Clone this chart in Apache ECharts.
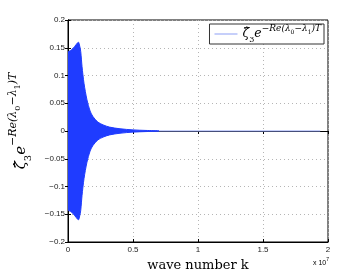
<!DOCTYPE html>
<html>
<head>
<meta charset="utf-8">
<script src="https://cdn.jsdelivr.net/npm/echarts@6/dist/echarts.min.js"></script>
<style>html,body{margin:0;padding:0;background:#fff;}#c{width:362px;height:273px;}</style>
</head>
<body>
<div id="c"></div>
<script>
// envelope of the oscillating signal (k, amplitude)
const envK = [0, 0.2e6, 0.4e6, 0.6e6, 0.8e6, 0.9e6, 0.98e6, 1.08e6, 1.23e6, 1.46e6, 1.7e6, 1.92e6, 2.3e6, 2.7e6, 3.2e6, 4.0e6, 5.0e6, 6.0e6, 7.0e6];
const envUpper = [0.143, 0.145, 0.149, 0.155, 0.160, 0.153, 0.143, 0.116, 0.086, 0.056, 0.036, 0.026, 0.016, 0.011, 0.007, 0.004, 0.002, 0.001, 0.0005];
const envLower = [-0.143, -0.145, -0.149, -0.155, -0.160, -0.153, -0.143, -0.116, -0.086, -0.056, -0.036, -0.026, -0.016, -0.011, -0.007, -0.004, -0.002, -0.001, -0.0005];
// tail of the signal (essentially zero)
const tailK = [0, 1.94e7];
const tailVal = [0, 0];
const xTicks = [0, 0.5, 1, 1.5, 2];
const yTicks = [-0.2, -0.15, -0.1, -0.05, 0, 0.05, 0.1, 0.15, 0.2];
const seriesName = 'zeta';

const chart = echarts.init(document.getElementById('c'), null, {renderer: 'canvas'});
const blue = '#1f3cff';
const tickFont = {fontFamily: 'Liberation Sans, Arial, sans-serif', fontSize: 8, color: '#222'};
const gridLine = {show: true, lineStyle: {color: '#b5b5b5', type: [1, 3], width: 1}};
const fmtY = v => {
  const r = Math.round(v * 100) / 100;
  const s = String(Math.abs(r));
  return (r < 0 ? '\u2212' : '') + s;
};
const mathText = '{b|\u03B6\u0302}{s|3}{b|e}{p|\u2212Re(\u03BB}{pp|0}{p|\u2212\u03BB}{pp|1}{p|)T}';
function mathRich(base, L) {
  const ff = 'DejaVu Serif, Liberation Serif, serif';
  return {
    b: {fontFamily: ff, fontStyle: 'italic', fontSize: base, color: '#000', verticalAlign: 'middle', lineHeight: L},
    s: {fontFamily: ff, fontSize: Math.round(base * 0.65), color: '#000', verticalAlign: 'bottom'},
    p: {fontFamily: ff, fontStyle: 'italic', fontSize: Math.round(base * 0.72), color: '#000', verticalAlign: 'top'},
    pp: {fontFamily: ff, fontSize: Math.round(base * 0.5), color: '#000', verticalAlign: 'top', padding: [Math.round(base * 0.42), 0, 0, 0]}
  };
}
const option = {
  animation: false,
  backgroundColor: '#fff',
  grid: {left: 68, top: 20, right: 34, bottom: 31, show: true, borderColor: '#000', borderWidth: 1, containLabel: false, outerBoundsMode: 'none'},
  legend: {
    show: true, right: 38, top: 24, orient: 'horizontal',
    backgroundColor: '#fff', borderColor: '#333', borderWidth: 1, borderRadius: 0,
    padding: [0, 3, 0, 5], itemWidth: 23, itemHeight: 1, itemGap: 4,
    data: [{name: seriesName, icon: 'rect'}],
    formatter: () => mathText,
    textStyle: {rich: mathRich(12.5, 20)}
  },
  xAxis: [{
    type: 'value', min: 0, max: 2e7, interval: 5e6, position: 'bottom',
    axisLine: {show: true, onZero: false, lineStyle: {color: '#000'}},
    axisTick: {show: true, inside: true, length: 3, lineStyle: {color: '#000'}},
    axisLabel: Object.assign({margin: 4, formatter: v => String(xTicks[Math.round(v / 5e6)])}, tickFont),
    splitLine: gridLine,
    name: 'wave number k', nameLocation: 'middle', nameGap: 13,
    nameTextStyle: {fontFamily: 'DejaVu Serif, Liberation Serif, serif', fontSize: 13, color: '#000', verticalAlign: 'top'}
  }, {
    type: 'value', min: 0, max: 2e7, interval: 5e6, position: 'top',
    axisLine: {show: true, lineStyle: {color: '#000'}},
    axisTick: {show: true, inside: true, length: 3, lineStyle: {color: '#000'}},
    axisLabel: {show: false}, splitLine: {show: false}
  }],
  yAxis: [{
    type: 'value', min: -0.2, max: 0.2, interval: 0.05, position: 'left',
    axisLine: {show: true, lineStyle: {color: '#000'}},
    axisTick: {show: true, inside: true, length: 3, lineStyle: {color: '#000'}},
    axisLabel: Object.assign({margin: 3, formatter: v => fmtY(yTicks[Math.round((v + 0.2) / 0.05)])}, tickFont),
    splitLine: gridLine,
    name: mathText,
    nameLocation: 'middle', nameRotate: 90, nameGap: 32,
    nameTextStyle: {padding: [0, 0, 0, 20], rich: mathRich(15, 26)}
  }, {
    type: 'value', min: -0.2, max: 0.2, interval: 0.05, position: 'right',
    axisLine: {show: true, lineStyle: {color: '#000'}},
    axisTick: {show: true, inside: true, length: 3, lineStyle: {color: '#000'}},
    axisLabel: {show: false}, splitLine: {show: false}
  }],
  graphic: [{
    type: 'text', left: 313, top: 257,
    style: {
      text: '{a|x 10}{b|7}',
      rich: {
        a: {fontFamily: 'Liberation Sans, Arial, sans-serif', fontSize: 7, fill: '#000', verticalAlign: 'middle', lineHeight: 12},
        b: {fontFamily: 'Liberation Sans, Arial, sans-serif', fontSize: 5, fill: '#000', verticalAlign: 'top'}
      }
    }
  }],
  series: [
    {
      name: seriesName, type: 'line', showSymbol: false, xAxisIndex: 0, yAxisIndex: 0,
      data: tailK.map((k, i) => [k, tailVal[i]]),
      lineStyle: {color: '#8c9ef5', width: 1}, itemStyle: {color: '#8c9ef5'}, z: 2
    },
    {
      name: 'upper', type: 'line', showSymbol: false, smooth: 0.3,
      data: envK.map((k, i) => [k, envUpper[i]]),
      lineStyle: {color: blue, width: 1}, areaStyle: {color: blue, opacity: 1}, z: 3
    },
    {
      name: 'lower', type: 'line', showSymbol: false, smooth: 0.3,
      data: envK.map((k, i) => [k, envLower[i]]),
      lineStyle: {color: blue, width: 1}, areaStyle: {color: blue, opacity: 1}, z: 3
    }
  ]
};
chart.setOption(option);
</script>
</body>
</html>
